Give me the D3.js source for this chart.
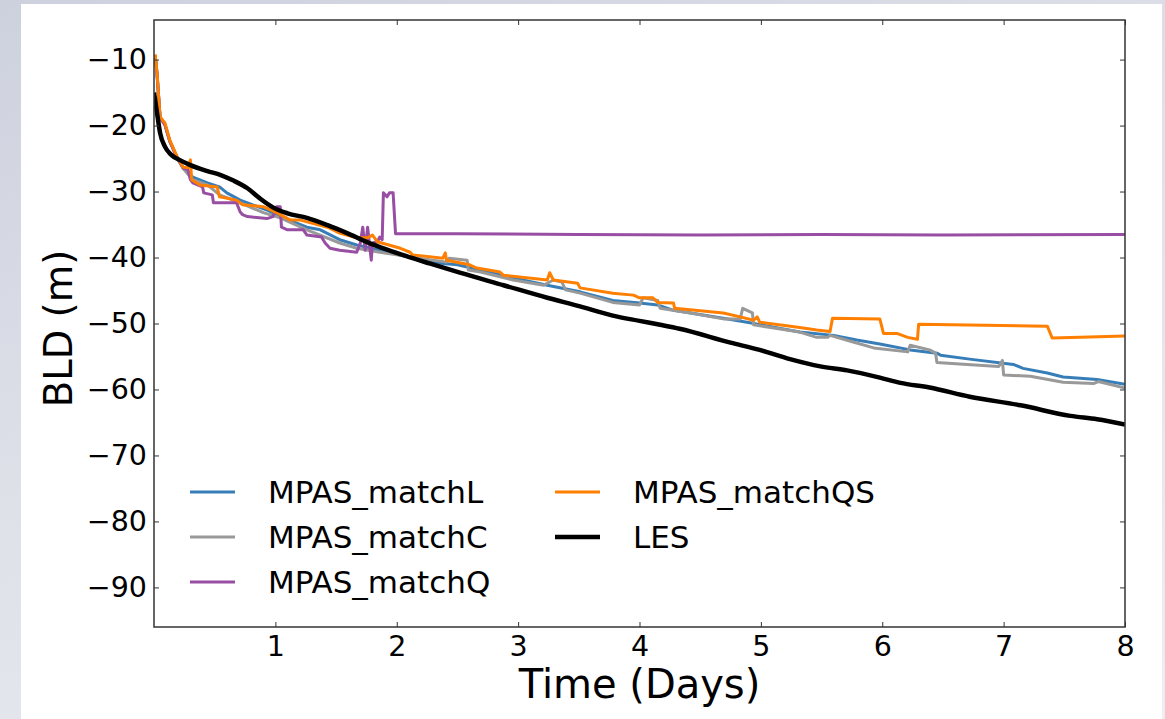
<!DOCTYPE html>
<html>
<head>
<meta charset="utf-8">
<script src="https://cdn.jsdelivr.net/npm/d3@7"></script>
<style>
  html, body { margin: 0; padding: 0; }
  body { width: 1165px; height: 719px; overflow: hidden;
         background: linear-gradient(160deg, #cdd1de 0%, #dfe1e9 45%, #eceef2 100%); }
  svg { display: block; }
  text { font-family: "DejaVu Sans", sans-serif; fill: #000; }
</style>
</head>
<body>
<svg id="chart" width="1165" height="719"></svg>
<script>
// ---------------- data ----------------
const seriesNames = ["MPAS_matchL", "MPAS_matchC", "MPAS_matchQ", "MPAS_matchQS", "LES"];
const seriesColors = ["#377eb8", "#999999", "#984ea3", "#ff7f00", "#000000"];

const xTicks = [1, 2, 3, 4, 5, 6, 7, 8];
const yTicks = [-10, -20, -30, -40, -50, -60, -70, -80, -90];

// [day, BLD (m)]
const matchL = [
  [0.01,-9.4],[0.025,-12.2],[0.05,-18.7],[0.09,-19.8],[0.13,-22.3],[0.19,-24.8],[0.24,-26.4],
  [0.32,-27.8],
  [0.44,-28.7],[0.54,-29.3],[0.60,-30.2],[0.71,-31.3],[0.93,-32.8],[1.04,-33.8],[1.26,-35.4],
  [1.37,-35.8],[1.53,-37.3],[1.67,-38.1],[1.86,-38.9],[2.27,-40.7],[2.50,-41.1],[2.69,-41.9],
  [2.96,-43.1],[3.24,-44.2],[3.51,-45.2],[3.78,-46.5],[4.00,-46.9],[4.15,-47.2],[4.28,-48.0],
  [4.69,-49.2],[4.91,-49.9],[5.32,-51.3],[5.60,-51.8],[5.79,-52.5],[5.98,-53.1],[6.23,-54.0],
  [6.45,-54.5],[6.48,-54.8],[6.72,-55.4],[7.08,-56.2],[7.16,-56.8],[7.36,-57.5],[7.49,-58.1],
  [7.77,-58.5],[8.00,-59.2]
];
const matchC = [
  [0.01,-9.4],[0.025,-12.2],[0.05,-18.8],[0.09,-19.9],[0.13,-22.4],[0.19,-24.9],[0.24,-26.5],
  [0.32,-28.2],
  [0.44,-29.0],[0.54,-30.5],[0.71,-31.7],[0.90,-33.2],[1.04,-34.0],[1.26,-35.8],[1.53,-37.8],
  [1.67,-38.6],[1.86,-39.2],[2.11,-39.9],[2.41,-40.7],[2.43,-40.1],[2.58,-40.4],[2.59,-41.9],
  [2.69,-42.2],[2.96,-43.4],[3.21,-44.2],[3.29,-43.4],[3.36,-43.7],[3.39,-44.9],[3.51,-45.4],
  [3.78,-46.8],[4.00,-47.2],[4.03,-46.1],[4.15,-46.5],[4.17,-47.7],[4.42,-48.4],[4.69,-49.3],
  [4.83,-49.3],[4.85,-47.7],[4.93,-48.4],[4.94,-50.2],[5.32,-51.3],[5.46,-52.1],[5.55,-52.1],
  [5.57,-51.8],[5.76,-52.8],[5.93,-53.7],[6.21,-54.3],[6.23,-53.3],[6.39,-54.0],[6.44,-54.5],
  [6.45,-55.9],[6.70,-56.2],[6.96,-56.5],[6.99,-55.6],[7.00,-57.8],[7.22,-58.0],[7.49,-58.9],
  [7.74,-59.1],[7.78,-58.8],[8.00,-59.8]
];
const matchQ = [
  [0.01,-9.4],[0.025,-12.2],[0.05,-18.8],[0.09,-19.9],[0.13,-22.4],[0.19,-24.9],[0.24,-26.4],
  [0.28,-26.7],[0.30,-28.2],
  [0.32,-28.7],[0.40,-29.3],[0.41,-30.2],[0.48,-30.5],[0.49,-31.7],[0.68,-31.7],[0.71,-33.1],
  [0.73,-33.5],[0.77,-33.8],[0.93,-34.1],[0.98,-33.8],[1.01,-32.3],[1.04,-32.3],[1.05,-35.4],
  [1.10,-35.8],[1.23,-35.8],[1.26,-36.6],[1.38,-36.9],[1.41,-37.8],[1.45,-38.6],[1.53,-38.9],
  [1.67,-39.2],[1.70,-37.8],[1.72,-35.4],[1.74,-38.9],[1.76,-35.4],[1.79,-40.4],[1.80,-37.8],
  [1.84,-37.6],[1.86,-36.9],[1.88,-37.3],[1.89,-30.2],[1.92,-30.8],[1.94,-30.2],[1.97,-30.2],
  [1.99,-36.4],[2.50,-36.4],[3.50,-36.5],[4.50,-36.6],[5.50,-36.5],[6.50,-36.6],[8.00,-36.5]
];
const matchQS = [
  [0.01,-9.2],[0.025,-12.0],[0.05,-18.7],[0.09,-19.6],[0.13,-22.2],[0.19,-24.7],[0.24,-26.3],
  [0.28,-26.4],[0.30,-25.2],[0.31,-28.2],[0.38,-29.0],[0.52,-29.3],[0.54,-30.8],[0.68,-31.3],
  [0.73,-32.0],[0.90,-32.3],[1.01,-33.2],[1.12,-34.3],[1.20,-34.3],[1.26,-34.6],[1.43,-35.4],
  [1.53,-36.3],[1.67,-37.0],[1.76,-37.0],[1.80,-36.6],[1.84,-37.6],[2.03,-38.6],[2.11,-39.2],
  [2.13,-39.6],[2.38,-40.1],[2.40,-39.3],[2.41,-40.4],[2.60,-41.1],[2.66,-41.6],[2.85,-42.2],
  [2.88,-42.7],[3.24,-43.4],[3.26,-42.3],[3.29,-43.4],[3.49,-43.9],[3.51,-44.6],[3.78,-45.4],
  [3.95,-45.7],[4.00,-46.1],[4.11,-46.1],[4.15,-46.8],[4.28,-46.9],[4.29,-47.7],[4.69,-48.4],
  [4.83,-49.0],[4.94,-49.5],[4.97,-49.0],[4.99,-49.8],[5.32,-50.6],[5.46,-51.0],[5.57,-51.2],
  [5.59,-49.2],[5.98,-49.3],[6.01,-51.5],[6.12,-51.5],[6.21,-52.1],[6.29,-52.4],[6.30,-50.1],
  [7.36,-50.4],[7.40,-52.2],[7.63,-52.1],[8.00,-51.9]
];
const les = [
  [0.00,-15.0],[0.025,-18.1],[0.05,-21.1],[0.09,-23.2],[0.14,-24.4],[0.21,-25.2],[0.30,-26.0],
  [0.44,-26.9],[0.55,-27.5],[0.65,-28.3],[0.77,-29.5],[0.87,-31.0],[0.98,-32.4],[1.10,-33.3],
  [1.26,-34.0],[1.43,-35.1],[1.59,-36.3],[1.76,-37.7],[1.92,-38.8],[2.08,-39.8],[2.27,-40.9],
  [2.52,-42.3],[2.88,-44.2],[3.24,-46.1],[3.51,-47.4],[3.78,-48.8],[4.00,-49.6],[4.17,-50.2],
  [4.33,-50.8],[4.75,-52.9],[4.99,-54.0],[5.24,-55.4],[5.49,-56.5],[5.71,-57.1],[5.98,-58.2],
  [6.15,-59.0],[6.39,-59.7],[6.72,-61.1],[7.14,-62.4],[7.55,-64.0],[7.77,-64.5],[8.00,-65.3]
];
const seriesData = [matchL, matchC, matchQ, matchQS, les];
const seriesWidths = [3, 3, 3, 3, 4.5];

// ---------------- layout ----------------
const svg = d3.select("#chart");
const plot = { left: 154, right: 1125, top: 20, bottom: 627 };

svg.append("rect").attr("x", 21).attr("y", 4).attr("width", 1141).attr("height", 715)
  .attr("fill", "#ffffff");

const x = d3.scaleLinear().domain([0, 8]).range([plot.left, plot.right]);
const y = d3.scaleLinear().domain([-96, -4]).range([plot.bottom, plot.top]);

svg.append("defs").append("clipPath").attr("id", "clip")
  .append("rect").attr("x", plot.left).attr("y", plot.top)
  .attr("width", plot.right - plot.left).attr("height", plot.bottom - plot.top);

const lineStep = d3.line().x(d => x(d[0])).y(d => y(d[1]));
const lineSmooth = d3.line().x(d => x(d[0])).y(d => y(d[1])).curve(d3.curveMonotoneX);

const g = svg.append("g").attr("clip-path", "url(#clip)");
seriesData.forEach((data, i) => {
  g.append("path").datum(data)
    .attr("d", i === 4 ? lineSmooth : lineStep)
    .attr("fill", "none")
    .attr("stroke", seriesColors[i])
    .attr("stroke-width", seriesWidths[i])
    .attr("stroke-linejoin", "round")
    .attr("stroke-linecap", "butt");
});

// ---------------- axes ----------------
const tickLen = 5;
const axisColor = "#333";
const fontTick = 28.5;

const xAxisB = d3.axisBottom(x).tickValues(xTicks).tickSizeInner(-tickLen).tickSizeOuter(0)
  .tickPadding(9).tickFormat(d3.format("d"));
const xAxisT = d3.axisTop(x).tickValues(xTicks).tickSizeInner(-tickLen).tickSizeOuter(0).tickFormat("");
const fmtY = d => (d < 0 ? "\u2212" + Math.abs(d) : String(d));
const yAxisL = d3.axisLeft(y).tickValues(yTicks).tickSizeInner(-tickLen).tickSizeOuter(0)
  .tickPadding(7).tickFormat(fmtY);
const yAxisR = d3.axisRight(y).tickValues(yTicks).tickSizeInner(-tickLen).tickSizeOuter(0).tickFormat("");

function styleAxis(sel) {
  sel.select(".domain").remove();
  sel.selectAll(".tick line").attr("stroke", axisColor).attr("stroke-width", 1);
  sel.selectAll(".tick text").attr("font-size", fontTick)
    .attr("font-family", "DejaVu Sans, sans-serif").attr("fill", "#000");
}
svg.append("g").attr("transform", `translate(0,${plot.bottom})`).call(xAxisB).call(styleAxis);
svg.append("g").attr("transform", `translate(0,${plot.top})`).call(xAxisT).call(styleAxis);
svg.append("g").attr("transform", `translate(${plot.left},0)`).call(yAxisL).call(styleAxis);
svg.append("g").attr("transform", `translate(${plot.right},0)`).call(yAxisR).call(styleAxis);

svg.append("rect").attr("x", plot.left).attr("y", plot.top)
  .attr("width", plot.right - plot.left).attr("height", plot.bottom - plot.top)
  .attr("fill", "none").attr("stroke", axisColor).attr("stroke-width", 1.5);

// axis titles
svg.append("text").attr("x", (plot.left + plot.right) / 2).attr("y", 698)
  .attr("text-anchor", "middle").attr("font-size", 40).text("Time (Days)");
svg.append("text").attr("transform", `translate(72,${(plot.top + plot.bottom) / 2 + 5}) rotate(-90)`)
  .attr("text-anchor", "middle").attr("font-size", 38.5).text("BLD (m)");

// ---------------- legend ----------------
const legendCols = [[0, 1, 2], [3, 4]];
const colX = [190, 555];
const rowY = [492, 537, 582];
legendCols.forEach((col, ci) => {
  col.forEach((si, ri) => {
    const lg = svg.append("g").attr("transform", `translate(${colX[ci]},${rowY[ri]})`);
    lg.append("line").attr("x1", 0).attr("x2", 45).attr("y1", 0).attr("y2", 0)
      .attr("stroke", seriesColors[si]).attr("stroke-width", seriesWidths[si]);
    lg.append("text").attr("x", 78).attr("y", 0).attr("dy", "0.35em")
      .attr("font-size", 31).text(seriesNames[si]);
  });
});
</script>
</body>
</html>
